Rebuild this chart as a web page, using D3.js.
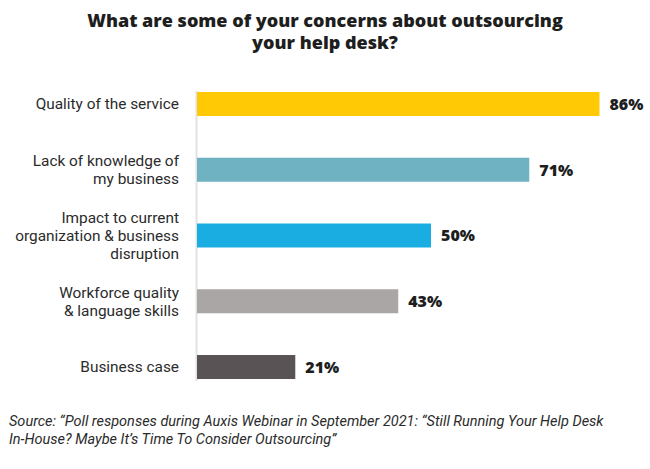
<!DOCTYPE html>
<html>
<head>
<meta charset="utf-8">
<script src="https://cdn.jsdelivr.net/npm/d3@7"></script>
<style>
  html, body { margin: 0; padding: 0; background: #fff; }
  svg { display: block; }
</style>
</head>
<body>
<svg id="chart" width="650" height="469"></svg>
<script>
const titleLines = ["What are some of your concerns about outsourcing", "your help desk?"];
const categories = [
  "Quality of the service",
  "Lack of knowledge of my business",
  "Impact to current organization & business disruption",
  "Workforce quality & language skills",
  "Business case"
];
const categoryLines = [
  ["Quality of the service"],
  ["Lack of knowledge of", "my business"],
  ["Impact to current", "organization & business", "disruption"],
  ["Workforce quality", "& language skills"],
  ["Business case"]
];
const values = [86, 71, 50, 43, 21];
const valueLabels = ["86%", "71%", "50%", "43%", "21%"];
const barColors = ["#FFC905", "#6FB3C3", "#1AADE1", "#ABA6A6", "#595356"];
const sourceLines = [
  "Source: \u201CPoll responses during Auxis Webinar in September 2021: \u201CStill Running Your Help Desk",
  "In-House? Maybe It\u2019s Time To Consider Outsourcing\u201D"
];

const svg = d3.select("#chart");
const titleFont = "'Open Sans', 'Noto Sans', sans-serif";
const labelFont = "Roboto, 'Open Sans', sans-serif";

const x = d3.scaleLinear().domain([0, 100]).range([197, 197 + 468]);
const y = d3.scaleBand().domain(categories).range([71.1, 399.9]).paddingInner(0.635).paddingOuter(0.3175);

// Title
svg.append("g").selectAll("text").data(titleLines).join("text")
  .attr("x", 325)
  .attr("y", (d, i) => 27 + i * 22)
  .attr("text-anchor", "middle")
  .attr("font-family", titleFont)
  .attr("font-weight", 800)
  .attr("font-size", 18)
  .attr("fill", "#1e1e1e")
  .text(d => d);

// Axis line
svg.append("line")
  .attr("x1", 196.5).attr("x2", 196.5)
  .attr("y1", y(categories[0]) - 1)
  .attr("y2", y(categories[categories.length - 1]) + y.bandwidth() + 2)
  .attr("stroke", "#e2e2e2")
  .attr("stroke-width", 2);

// Bars
svg.append("g").selectAll("rect").data(categories).join("rect")
  .attr("x", x(0))
  .attr("y", d => y(d))
  .attr("width", (d, i) => x(values[i]) - x(0))
  .attr("height", y.bandwidth())
  .attr("fill", (d, i) => barColors[i]);

// Value labels
svg.append("g").selectAll("text").data(categories).join("text")
  .attr("x", (d, i) => x(values[i]) + 10)
  .attr("y", d => y(d) + y.bandwidth() / 2)
  .attr("dy", "0.36em")
  .attr("font-family", titleFont)
  .attr("font-weight", 800)
  .attr("font-size", 16)
  .attr("fill", "#1e1e1e")
  .text((d, i) => valueLabels[i]);

// Category labels
const lineH = 18;
const lab = svg.append("g").selectAll("text").data(categories).join("text")
  .attr("text-anchor", "end")
  .attr("font-family", labelFont)
  .attr("font-size", 15.4)
  .attr("fill", "#2b2b2b");
lab.each(function(d, i) {
  const lines = categoryLines[i];
  const cy = y(d) + y.bandwidth() / 2;
  const first = cy - (lines.length - 1) * lineH / 2;
  d3.select(this).selectAll("tspan").data(lines).join("tspan")
    .attr("x", 179)
    .attr("y", (l, j) => first + j * lineH)
    .attr("dy", "0.35em")
    .text(l => l);
});

// Source
svg.append("g").selectAll("text").data(sourceLines).join("text")
  .attr("x", 9)
  .attr("y", (d, i) => 426 + i * 17.5)
  .attr("font-family", labelFont)
  .attr("font-style", "italic")
  .attr("font-size", 14.5)
  .attr("fill", "#2b2b2b")
  .text(d => d);
</script>
</body>
</html>
